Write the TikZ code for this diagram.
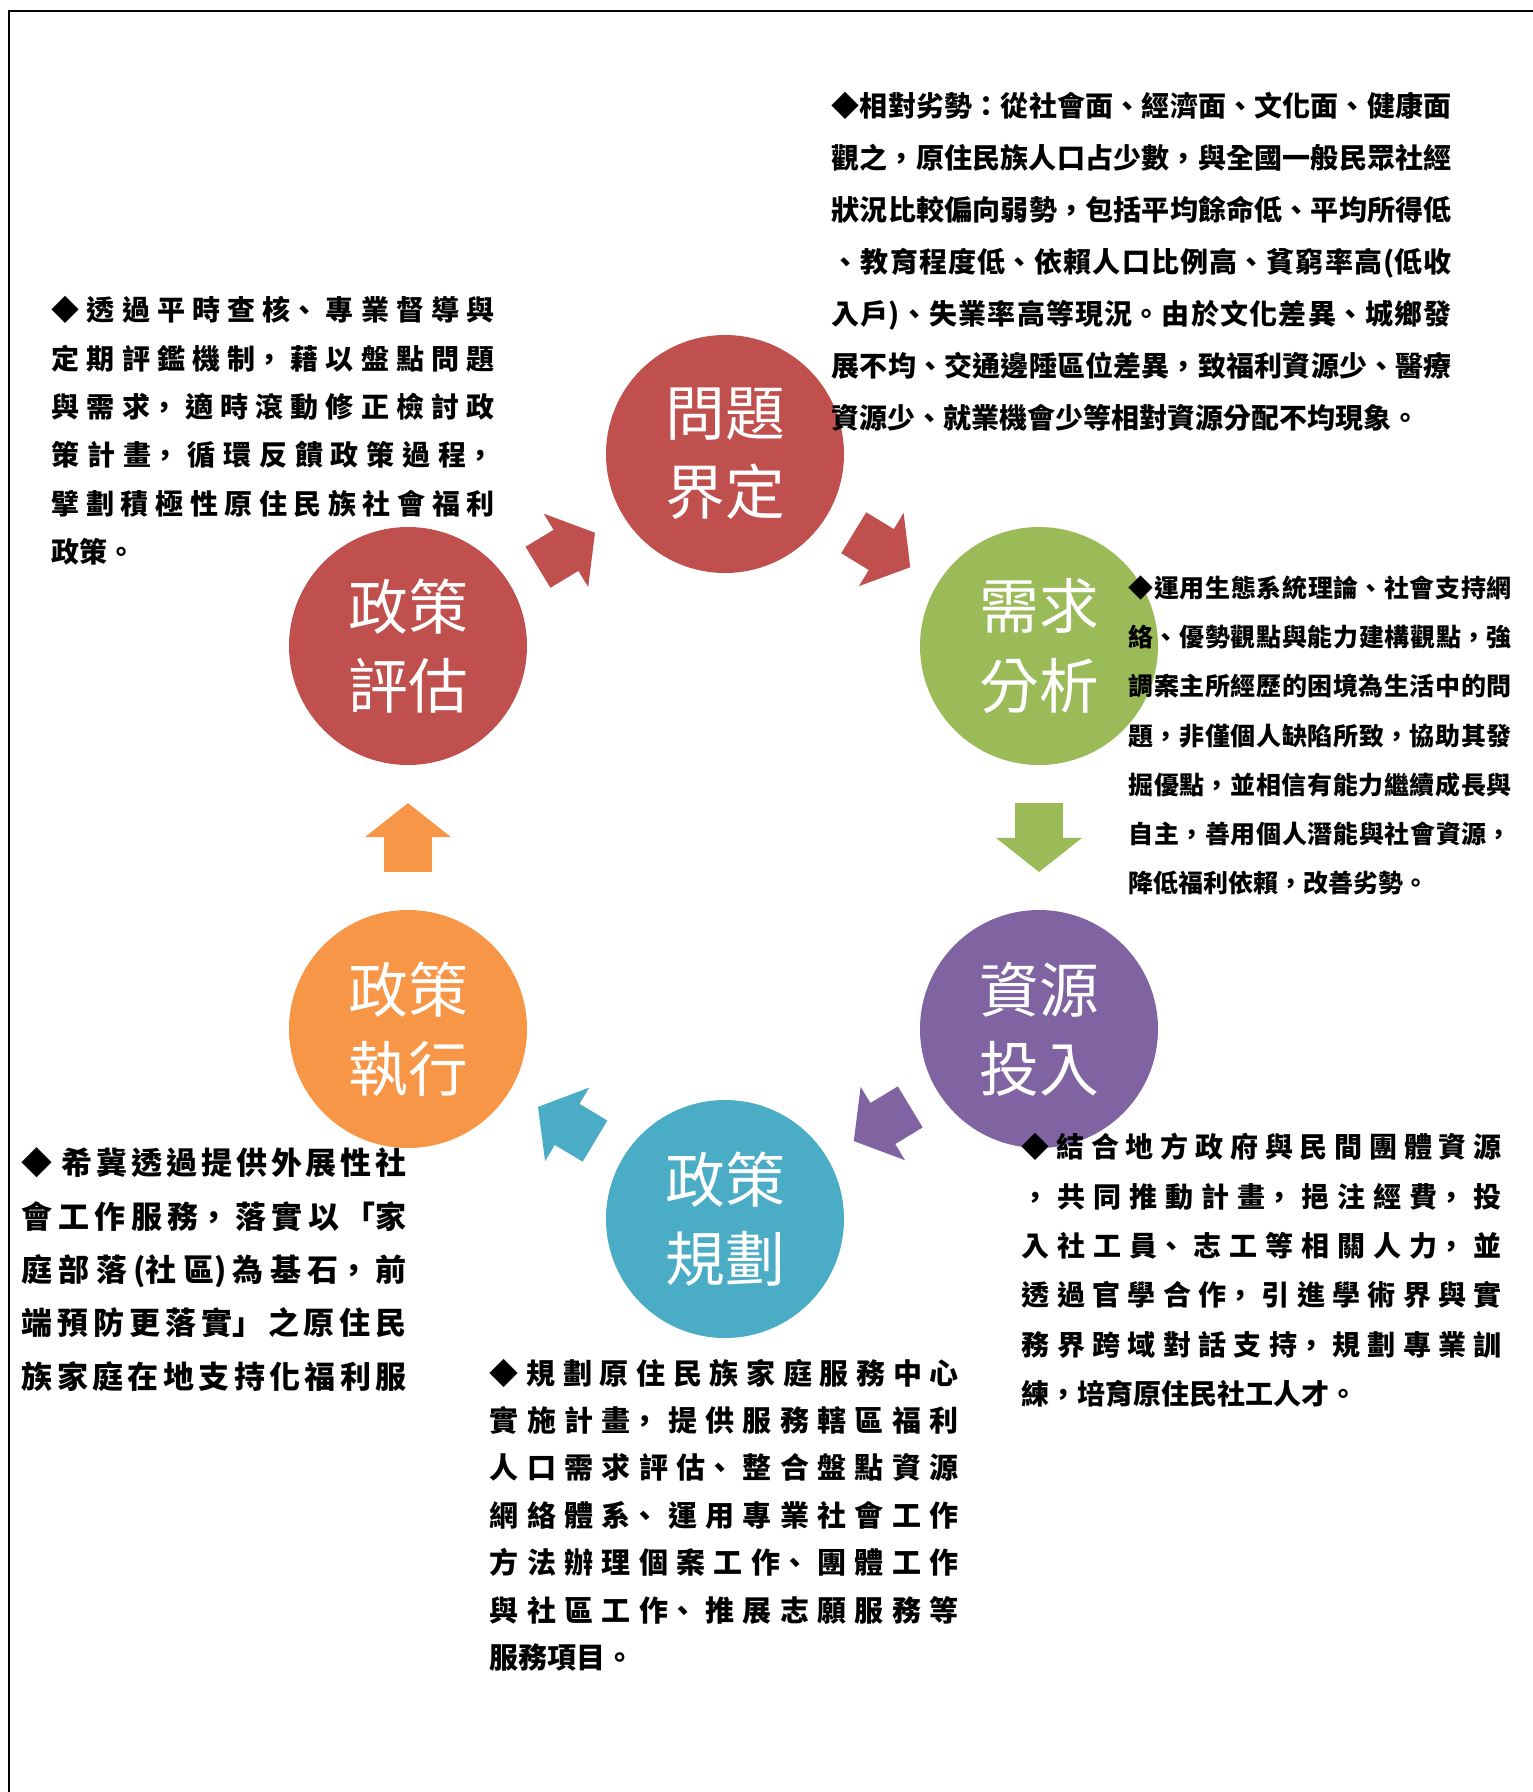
\documentclass[tikz,border=0pt]{standalone}
\usepackage{fontspec}
\usetikzlibrary{calc,arrows.meta}
\newfontfamily\cjk{Noto Sans CJK TC}
\definecolor{probred}{HTML}{C0504D}
\definecolor{needgreen}{HTML}{9BBB59}
\definecolor{respurple}{HTML}{8064A2}
\definecolor{planblue}{HTML}{4BACC6}
\definecolor{execorange}{HTML}{F79646}
\XeTeXlinebreaklocale "zh"
\XeTeXlinebreakskip=0pt plus 2pt

\begin{document}
\begin{tikzpicture}
[circledecorate/.style={shape=circle,inner sep=0pt,minimum size=2.38cm,text=white,align=center,%
   font=\cjk\fontsize{17}{22.5}\selectfont},%
  arrowdecorate/.style={line width=0.48cm,-{Triangle[width=0.84cm,length=0.34cm]}},%
  textdecorate/.style={anchor=base west,inner sep=0pt,align=justify}]
\useasboundingbox (0,0) rectangle (15.33,-17.92);
%% frame
\draw[line width=0.6pt] (0.09,-17.92) -- (0.09,-0.11) -- (15.33,-0.11);
%% stages of the cycle
\foreach \nodename/\x/\y/\col/\txt in {
  prob/7.25/-4.54/probred/問題\\界定,
  need/10.39/-6.46/needgreen/需求\\分析,
  res/10.39/-10.29/respurple/資源\\投入,
  plan/7.25/-12.19/planblue/政策\\規劃,
  exec/4.08/-10.29/execorange/政策\\執行,
  eval/4.08/-6.46/probred/政策\\評估}
{
  \node (\nodename) at (\x,\y) [circledecorate,fill=\col] {\txt};
}
%% arrows between stages
\foreach \startnode/\endnode/\col in {
  eval/prob/probred, prob/need/probred, need/res/needgreen,
  res/plan/respurple, plan/exec/planblue, exec/eval/execorange}
{
  \draw[arrowdecorate,\col] ($(\startnode)!0.41!(\endnode)$) -- ($(\startnode)!0.59!(\endnode)$);
}
%% notes
\node (weaknote) at (8.31,-1.166) [textdecorate,text width=6.2cm,%
  font=\cjk\bfseries\fontsize{7.97}{14.8}\selectfont]
  {◆相對劣勢：從社會面、經濟面、文化面、健康面\linebreak
   觀之，原住民族人口占少數，與全國一般民眾社經\linebreak
   狀況比較偏向弱勢，包括平均餘命低、平均所得低\linebreak
   、教育程度低、依賴人口比例高、貧窮率高(低收\linebreak
   入戶)、失業率高等現況。由於文化差異、城鄉發\linebreak
   展不均、交通邊陲區位差異，致福利資源少、醫療\linebreak
   資源少、就業機會少等相對資源分配不均現象。};
\node (reviewnote) at (0.51,-3.206) [textdecorate,text width=4.43cm,%
  font=\cjk\bfseries\fontsize{7.97}{13.77}\selectfont]
  {◆透過平時查核、專業督導與\linebreak
   定期評鑑機制，藉以盤點問題\linebreak
   與需求，適時滾動修正檢討政\linebreak
   策計畫，循環反饋政策過程，\linebreak
   擘劃積極性原住民族社會福利\linebreak
   政策。};
\node (theorynote) at (11.28,-5.975) [textdecorate,text width=3.83cm,%
  font=\cjk\bfseries\fontsize{7.11}{14.0}\selectfont]
  {◆運用生態系統理論、社會支持網\linebreak
   絡、優勢觀點與能力建構觀點，強\linebreak
   調案主所經歷的困境為生活中的問\linebreak
   題，非僅個人缺陷所致，協助其發\linebreak
   掘優點，並相信有能力繼續成長與\linebreak
   自主，善用個人潛能與社會資源，\linebreak
   降低福利依賴，改善劣勢。};
\node (resourcenote) at (10.21,-11.576) [textdecorate,text width=4.8cm,%
  font=\cjk\bfseries\fontsize{7.97}{14.06}\selectfont]
  {◆結合地方政府與民間團體資源\linebreak
   ，共同推動計畫，挹注經費，投\linebreak
   入社工員、志工等相關人力，並\linebreak
   透過官學合作，引進學術界與實\linebreak
   務界跨域對話支持，規劃專業訓\linebreak
   練，培育原住民社工人才。};
\node (outreachnote) at (0.21,-11.748) [textdecorate,text width=3.85cm,%
  font=\cjk\bfseries\fontsize{8.82}{15.17}\selectfont]
  {◆ 希冀透過提供外展性社\linebreak
   會工作服務，落實以「家\linebreak
   庭部落(社區)為基石，前\linebreak
   端預防更落實」之原住民\linebreak
   族家庭在地支持化福利服\linebreak\mbox{}};
\node (plannote) at (4.89,-13.84) [textdecorate,text width=4.69cm,%
  font=\cjk\bfseries\fontsize{8.25}{13.5}\selectfont]
  {◆規劃原住民族家庭服務中心\linebreak
   實施計畫，提供服務轄區福利\linebreak
   人口需求評估、整合盤點資源\linebreak
   網絡體系、運用專業社會工作\linebreak
   方法辦理個案工作、團體工作\linebreak
   與社區工作、推展志願服務等\linebreak
   服務項目。};
\end{tikzpicture}
\end{document}
